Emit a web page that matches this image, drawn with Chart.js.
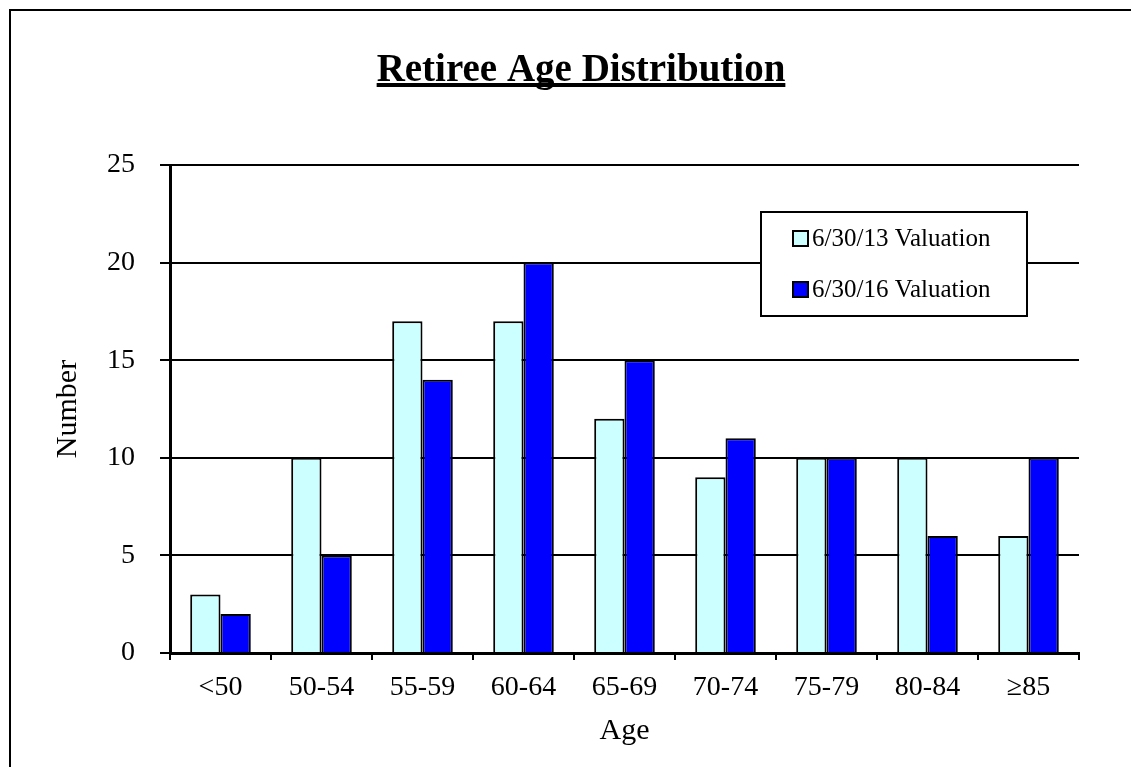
<!DOCTYPE html>
<html>
<head>
<meta charset="utf-8">
<title>Retiree Age Distribution</title>
<script src="https://cdn.jsdelivr.net/npm/chart.js@4.4.1/dist/chart.umd.min.js"></script>
<style>
  html, body { margin: 0; padding: 0; background: #fff; }
  #wrap { width: 1131px; height: 767px; position: relative; }
</style>
</head>
<body>
<div id="wrap"><canvas id="age-chart" width="1131" height="767"></canvas></div>
<script>
// age bands and retiree counts per valuation
const ageBands = ['<50', '50-54', '55-59', '60-64', '65-69', '70-74', '75-79', '80-84', '\u226585'];
const val2013 = [3, 10, 17, 17, 12, 9, 10, 10, 6];
const val2016 = [2, 5, 14, 20, 15, 11, 10, 6, 10];
const seriesNames = ['6/30/13 Valuation', '6/30/16 Valuation'];
const yTicks = [0, 5, 10, 15, 20, 25];

const SERIF = '"Liberation Serif", "Times New Roman", serif';
const COLORS = {
  'light-cyan': '#CCFFFF',
  'blue': '#0000FF',
};

// white page with the frame line on the left and top
const framePlugin = {
  id: 'frame',
  beforeDraw(chart) {
    const ctx = chart.ctx;
    ctx.save();
    ctx.fillStyle = '#fff';
    ctx.fillRect(0, 0, chart.width, chart.height);
    ctx.strokeStyle = '#000';
    ctx.lineWidth = 2;
    ctx.strokeRect(10, 10, chart.width + 20, chart.height + 20);
    ctx.restore();
  }
};

// bold underlined heading
const headingPlugin = {
  id: 'heading',
  afterDraw(chart) {
    const ctx = chart.ctx;
    const text = 'Retiree Age Distribution';
    const cx = 581, baseY = 81;
    ctx.save();
    ctx.font = 'bold 39px ' + SERIF;
    ctx.fillStyle = '#000';
    ctx.textAlign = 'center';
    ctx.textBaseline = 'alphabetic';
    ctx.fillText(text, cx, baseY);
    const w = ctx.measureText(text).width;
    ctx.fillRect(cx - w / 2, baseY + 2, w, 4);
    ctx.restore();
  }
};

// boxed legend inside the plot
const boxLegendPlugin = {
  id: 'boxLegend',
  afterDatasetsDraw(chart) {
    const ctx = chart.ctx;
    const x = 761, y = 212, w = 266, h = 104;
    ctx.save();
    ctx.fillStyle = '#fff';
    ctx.fillRect(x, y, w, h);
    ctx.strokeStyle = '#000';
    ctx.lineWidth = 2;
    ctx.strokeRect(x, y, w, h);
    ctx.font = '25px ' + SERIF;
    ctx.textBaseline = 'middle';
    chart.data.datasets.forEach((ds, i) => {
      const rowY = y + 26 + i * 51;
      ctx.fillStyle = ds.backgroundColor;
      ctx.fillRect(793, rowY - 7, 15, 15);
      ctx.strokeRect(793, rowY - 7, 15, 15);
      ctx.fillStyle = '#000';
      ctx.fillText(ds.label, 812, rowY + 1);
    });
    ctx.restore();
  }
};

const chart = new Chart(document.getElementById('age-chart'), {
  type: 'bar',
  data: {
    labels: ageBands,
    datasets: [
      {
        label: seriesNames[0],
        data: val2013,
        backgroundColor: COLORS['light-cyan'],
        borderColor: '#000',
        borderWidth: 2,
        categoryPercentage: 0.6,
        barPercentage: 1,
      },
      {
        label: seriesNames[1],
        data: val2016,
        backgroundColor: COLORS['blue'],
        borderColor: '#000',
        borderWidth: 2,
        categoryPercentage: 0.6,
        barPercentage: 1,
      },
    ],
  },
  options: {
    responsive: false,
    animation: false,
    layout: { padding: { top: 165, right: 52, left: 0, bottom: 0 } },
    plugins: {
      legend: { display: false },
      tooltip: { enabled: false },
      title: { display: false },
    },
    scales: {
      x: {
        offset: true,
        afterFit(scale) { scale.height = 114; },
        border: { color: '#000', width: 3 },
        grid: {
          offset: true,
          drawOnChartArea: false,
          color: '#000',
          lineWidth: 2,
          tickLength: 7,
        },
        ticks: {
          color: '#000',
          padding: 11,
          maxRotation: 0,
          font: { family: SERIF, size: 28 },
        },
        title: {
          display: true,
          text: 'Age',
          color: '#000',
          font: { family: SERIF, size: 30 },
          padding: { top: 0, bottom: 18 },
        },
      },
      y: {
        min: 0,
        max: 25,
        afterFit(scale) { scale.width = 170; },
        afterBuildTicks(scale) { scale.ticks = yTicks.map(v => ({ value: v })); },
        border: { color: '#000', width: 3 },
        grid: {
          color: '#000',
          lineWidth: 2,
          tickLength: 10,
        },
        ticks: {
          color: '#000',
          padding: 25,
          font: { family: SERIF, size: 28 },
        },
        title: {
          display: true,
          text: 'Number',
          color: '#000',
          font: { family: SERIF, size: 30 },
          padding: { top: 50, bottom: 0 },
        },
      },
    },
  },
  plugins: [framePlugin, headingPlugin, boxLegendPlugin],
});
</script>
</body>
</html>
